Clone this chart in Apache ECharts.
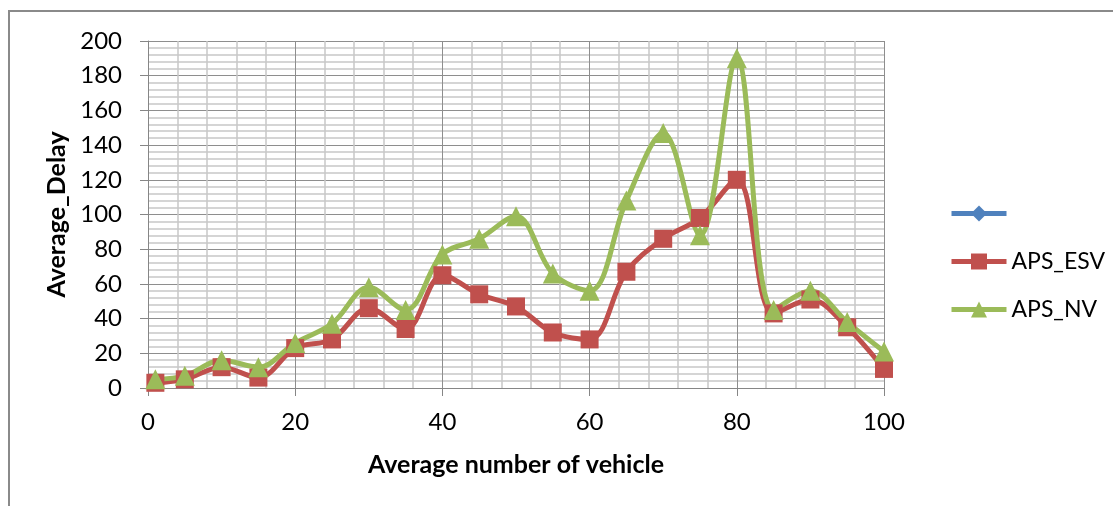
<!DOCTYPE html>
<html>
<head>
<meta charset="utf-8">
<script src="https://cdn.jsdelivr.net/npm/echarts@6/dist/echarts.min.js"></script>
<style>
html,body{margin:0;padding:0;background:#fff;}
#chart{width:1113px;height:506px;}
</style>
</head>
<body>
<div id="chart"></div>
<script>
const xValues = [1, 5, 10, 15, 20, 25, 30, 35, 40, 45, 50, 55, 60, 65, 70, 75, 80, 85, 90, 95, 100];
const apsEsv = [3, 5, 12, 6, 23, 28, 46, 34, 65, 54, 47, 32, 28, 67, 86, 98, 120, 43, 51, 35, 11];
const apsNv = [5, 7, 16, 12, 26, 37, 58, 45, 77, 86, 99, 66, 56, 108, 147, 88, 190, 45, 56, 38, 21];
const seriesNames = [' ', 'APS_ESV', 'APS_NV'];

const font = 'Lato, "Open Sans", sans-serif';
const chart = echarts.init(document.getElementById('chart'), null, {renderer: 'canvas'});
const pair = (xs, ys) => xs.map((x, i) => [x, ys[i]]);

chart.setOption({
  animation: false,
  backgroundColor: '#fff',
  graphic: [{
    type: 'rect',
    shape: {x: 9, y: 11, width: 1200, height: 600},
    style: {fill: 'none', stroke: '#8a8a8a', lineWidth: 2},
    silent: true
  }],
  grid: {left: 148, right: 229, top: 41, bottom: 118},
  legend: {
    orient: 'vertical',
    left: 944,
    top: 197,
    itemWidth: 55,
    itemHeight: 20,
    itemGap: 25,
    data: seriesNames,
    lineStyle: {width: 5},
    textStyle: {fontFamily: font, fontSize: 23, color: '#000'}
  },
  xAxis: {
    type: 'value', min: 0, max: 100, interval: 20,
    name: 'Average number of vehicle',
    nameLocation: 'middle', nameGap: 64,
    nameTextStyle: {fontFamily: font, fontSize: 25, fontWeight: 'bold', color: '#000'},
    axisLine: {show: true, lineStyle: {color: '#868686', width: 1}},
    axisTick: {show: true, length: 8, lineStyle: {color: '#868686'}},
    axisLabel: {fontFamily: font, fontSize: 24, color: '#000', margin: 22},
    splitLine: {show: true, lineStyle: {color: '#8e8e8e', width: 1}},
    minorTick: {show: false, splitNumber: 5},
    minorSplitLine: {show: true, lineStyle: {color: '#c8c8c8', width: 1.5}}
  },
  yAxis: {
    type: 'value', min: 0, max: 200, interval: 20,
    name: 'Average_Delay',
    nameLocation: 'middle', nameGap: 61, nameRotate: 90,
    nameTextStyle: {fontFamily: font, fontSize: 25, fontWeight: 'bold', color: '#000'},
    axisLine: {show: true, lineStyle: {color: '#868686', width: 1}},
    axisTick: {show: true, length: 8, lineStyle: {color: '#868686'}},
    axisLabel: {fontFamily: font, fontSize: 24, color: '#000', margin: 26},
    splitLine: {show: true, lineStyle: {color: '#8e8e8e', width: 1}},
    minorTick: {show: false, splitNumber: 5},
    minorSplitLine: {show: true, lineStyle: {color: '#c8c8c8', width: 1.5}}
  },
  series: [
    {
      name: seriesNames[0], type: 'line', data: [],
      symbol: 'diamond', symbolSize: 18,
      itemStyle: {color: '#4F81BD'}, lineStyle: {color: '#4F81BD', width: 5}
    },
    {
      name: seriesNames[1], type: 'line', data: pair(xValues, apsEsv),
      smooth: 0.35, symbol: 'rect', symbolSize: 18, showAllSymbol: true,
      itemStyle: {color: '#C0504D'}, lineStyle: {color: '#C0504D', width: 5}
    },
    {
      name: seriesNames[2], type: 'line', data: pair(xValues, apsNv),
      smooth: 0.35, symbol: 'triangle', symbolSize: 20, showAllSymbol: true,
      itemStyle: {color: '#9BBB59'}, lineStyle: {color: '#9BBB59', width: 5}
    }
  ]
});
</script>
</body>
</html>
